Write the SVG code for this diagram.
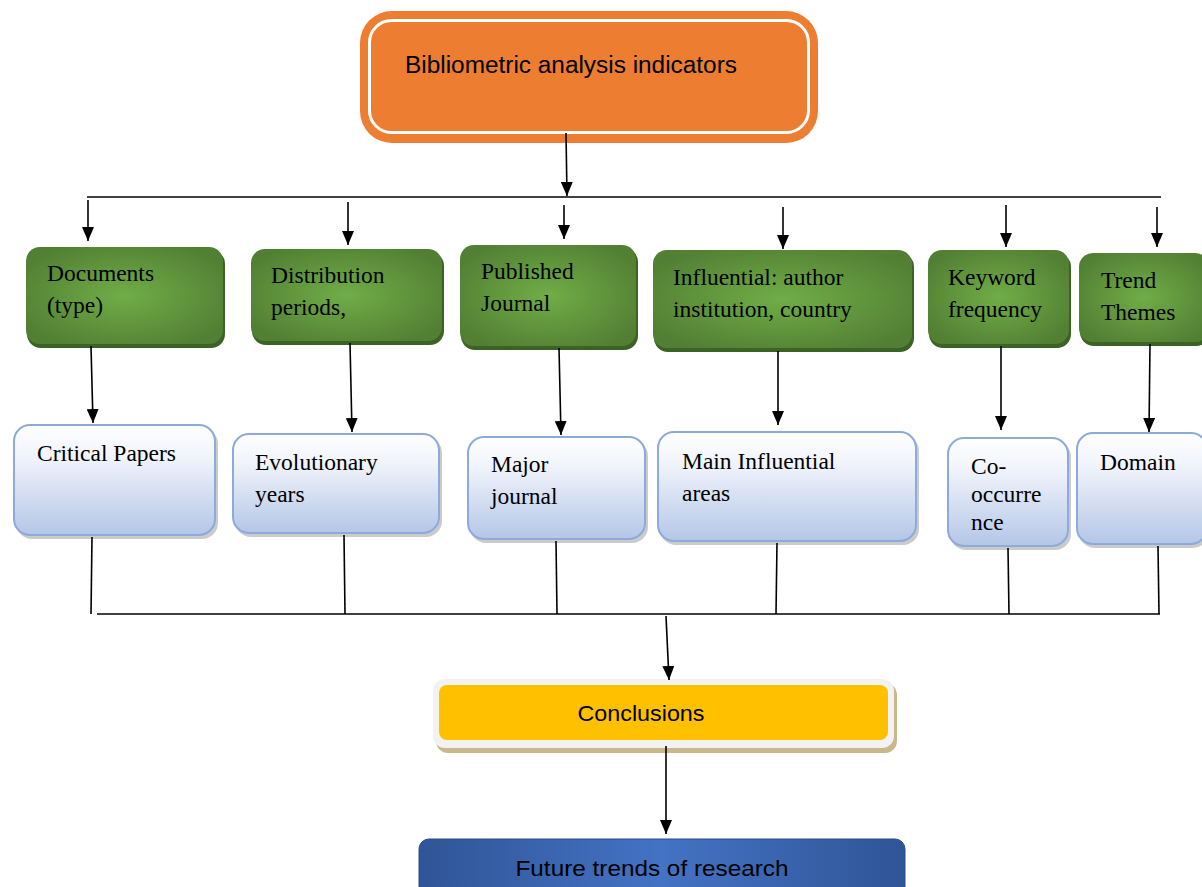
<svg xmlns="http://www.w3.org/2000/svg" width="1202" height="887" viewBox="0 0 1202 887">
<style>
.serif{font-family:"Liberation Serif","Times New Roman",serif;font-size:23.5px;fill:#000}
.sans{font-family:"Liberation Sans",Arial,sans-serif;fill:#000}
.green{fill:url(#gg)}
.gshadow{fill:#3d6226}
.blue{fill:url(#bg);stroke:#8eaadb;stroke-width:2}
.bshadow{fill:#a8a8a8;opacity:0.6}
.conn line{stroke:#000;stroke-width:1.6}
</style>
<defs>
<radialGradient id="gg" cx="50%" cy="50%" r="60%">
<stop offset="0" stop-color="#70ad47"/>
<stop offset="1" stop-color="#527f33"/>
</radialGradient>
<linearGradient id="bg" x1="0" y1="0" x2="0" y2="1">
<stop offset="0" stop-color="#ffffff"/>
<stop offset="0.3" stop-color="#f0f3fb"/>
<stop offset="1" stop-color="#b4c6e7"/>
</linearGradient>
<linearGradient id="fg" x1="0" y1="0" x2="1" y2="0">
<stop offset="0" stop-color="#2f5597"/>
<stop offset="0.5" stop-color="#4472c4"/>
<stop offset="1" stop-color="#2f5597"/>
</linearGradient>
<marker id="ah2" viewBox="0 0 14 12" refX="14" refY="6" markerWidth="14" markerHeight="12" markerUnits="userSpaceOnUse" orient="auto">
<path d="M0,0 L14,6 L0,12 Z" fill="#000"/>
</marker>
</defs>

<g id="top">
<rect x="360" y="11" width="458" height="132" rx="32" fill="#ed7d31"/>
<rect x="369.5" y="20.5" width="439" height="112" rx="22" fill="none" stroke="#fff" stroke-width="3"/>
<text class="sans" x="405" y="73" font-size="23" textLength="332" lengthAdjust="spacingAndGlyphs">Bibliometric analysis indicators</text>
</g>

<g id="n-documents">
<rect class="gshadow" x="27" y="250" width="198" height="98" rx="14"/>
<rect class="green" x="26" y="247" width="197" height="97" rx="14"/>
<text class="serif" x="47" y="281">Documents</text>
<text class="serif" x="47" y="313">(type)</text>
</g>
<g id="n-distribution">
<rect class="gshadow" x="252" y="252" width="192" height="93" rx="14"/>
<rect class="green" x="251" y="249" width="191" height="92" rx="14"/>
<text class="serif" x="271" y="283">Distribution</text>
<text class="serif" x="271" y="315">periods,</text>
</g>
<g id="n-published">
<rect class="gshadow" x="461" y="248" width="177" height="102" rx="14"/>
<rect class="green" x="460" y="245" width="176" height="101" rx="14"/>
<text class="serif" x="481" y="279">Published</text>
<text class="serif" x="481" y="311">Journal</text>
</g>
<g id="n-influential">
<rect class="gshadow" x="654" y="253" width="260" height="99" rx="14"/>
<rect class="green" x="653" y="250" width="259" height="98" rx="14"/>
<text class="serif" x="673" y="285">Influential: author</text>
<text class="serif" x="673" y="317">institution, country</text>
</g>
<g id="n-keyword">
<rect class="gshadow" x="929" y="253" width="142" height="95" rx="14"/>
<rect class="green" x="928" y="250" width="141" height="94" rx="14"/>
<text class="serif" x="948" y="285">Keyword</text>
<text class="serif" x="948" y="317">frequency</text>
</g>
<g id="n-trend">
<rect class="gshadow" x="1080" y="256" width="130" height="90" rx="14"/>
<rect class="green" x="1079" y="253" width="130" height="89" rx="14"/>
<text class="serif" x="1101" y="288">Trend</text>
<text class="serif" x="1101" y="320">Themes</text>
</g>

<g id="n-critical">
<rect class="bshadow" x="16" y="428" width="202" height="111" rx="16"/>
<rect class="blue" x="14" y="425" width="201" height="110" rx="16"/>
<text class="serif" x="37" y="461">Critical Papers</text>
</g>
<g id="n-evolutionary">
<rect class="bshadow" x="235" y="437" width="207" height="100" rx="16"/>
<rect class="blue" x="233" y="434" width="206" height="99" rx="16"/>
<text class="serif" x="255" y="470">Evolutionary</text>
<text class="serif" x="255" y="502">years</text>
</g>
<g id="n-major">
<rect class="bshadow" x="470" y="440" width="178" height="103" rx="16"/>
<rect class="blue" x="468" y="437" width="177" height="102" rx="16"/>
<text class="serif" x="491" y="472">Major</text>
<text class="serif" x="491" y="504">journal</text>
</g>
<g id="n-main">
<rect class="bshadow" x="660" y="435" width="259" height="110" rx="16"/>
<rect class="blue" x="658" y="432" width="258" height="109" rx="16"/>
<text class="serif" x="682" y="469">Main Influential</text>
<text class="serif" x="682" y="501">areas</text>
</g>
<g id="n-cooccurrence">
<rect class="bshadow" x="950" y="441" width="121" height="109" rx="16"/>
<rect class="blue" x="948" y="438" width="120" height="108" rx="16"/>
<text class="serif" x="971" y="474" font-size="18.5">Co-</text>
<text class="serif" x="971" y="502" font-size="18.5">occurre</text>
<text class="serif" x="971" y="530" font-size="18.5">nce</text>
</g>
<g id="n-domain">
<rect class="bshadow" x="1079" y="436" width="130" height="112" rx="16"/>
<rect class="blue" x="1077" y="433" width="130" height="111" rx="16"/>
<text class="serif" x="1100" y="470">Domain</text>
</g>

<g id="n-conclusions">
<rect x="436" y="683" width="461" height="70" rx="12" fill="#c8b88a"/>
<rect x="433" y="679" width="461" height="69" rx="12" fill="#f2f2f2"/>
<rect x="439" y="685" width="449" height="55" rx="8" fill="#ffc000"/>
<text class="sans" x="641" y="721" font-size="22" text-anchor="middle" textLength="127" lengthAdjust="spacingAndGlyphs">Conclusions</text>
</g>

<g id="n-future">
<rect x="419" y="839" width="486" height="62" rx="10" fill="url(#fg)" stroke="#2a4c88" stroke-width="1"/>
<text class="sans" x="652" y="876" font-size="22" text-anchor="middle" textLength="273" lengthAdjust="spacingAndGlyphs">Future trends of research</text>
</g>

<g id="connectors" class="conn">
<line x1="566" y1="133" x2="567" y2="196" marker-end="url(#ah2)"/>
<line x1="87" y1="197" x2="1161" y2="197"/>
<line x1="88" y1="200" x2="88" y2="241" marker-end="url(#ah2)"/>
<line x1="348" y1="202" x2="348" y2="245" marker-end="url(#ah2)"/>
<line x1="564" y1="205" x2="564" y2="239" marker-end="url(#ah2)"/>
<line x1="783" y1="207" x2="783" y2="249" marker-end="url(#ah2)"/>
<line x1="1006" y1="205" x2="1006" y2="247" marker-end="url(#ah2)"/>
<line x1="1157" y1="207" x2="1157" y2="247" marker-end="url(#ah2)"/>
<line x1="91" y1="346" x2="93" y2="423" marker-end="url(#ah2)"/>
<line x1="350" y1="343" x2="352" y2="432" marker-end="url(#ah2)"/>
<line x1="559" y1="348" x2="561" y2="435" marker-end="url(#ah2)"/>
<line x1="778" y1="351" x2="778" y2="425" marker-end="url(#ah2)"/>
<line x1="1001" y1="346" x2="1001" y2="430" marker-end="url(#ah2)"/>
<line x1="1150" y1="344" x2="1149" y2="432" marker-end="url(#ah2)"/>
<line x1="92" y1="537" x2="91" y2="614"/>
<line x1="344" y1="535" x2="345" y2="614"/>
<line x1="556" y1="541" x2="557" y2="614"/>
<line x1="777" y1="543" x2="776" y2="614"/>
<line x1="1008" y1="548" x2="1009" y2="614"/>
<line x1="1158" y1="546" x2="1159" y2="614"/>
<line x1="97" y1="614" x2="1160" y2="614"/>
<line x1="666" y1="616" x2="669" y2="680" marker-end="url(#ah2)"/>
<line x1="666" y1="746" x2="666" y2="834" marker-end="url(#ah2)"/>
</g>
</svg>
